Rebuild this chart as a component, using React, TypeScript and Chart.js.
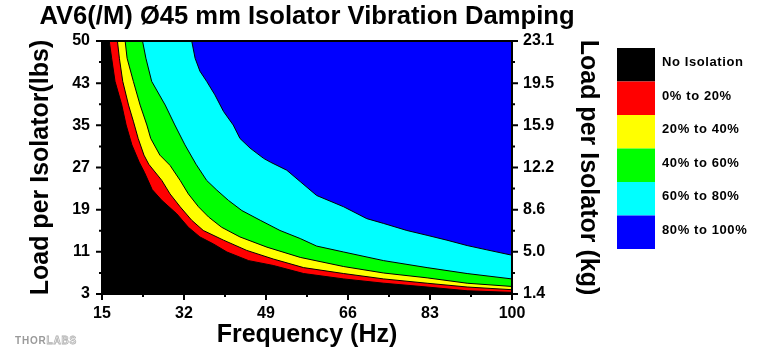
import React, { useEffect, useRef } from 'react';
import { Chart, registerables } from 'chart.js';

Chart.register(...registerables);

const FONT = '"Liberation Sans", Arial, Helvetica, sans-serif';

const chartTitle = 'AV6(/M) Ø45 mm Isolator Vibration Damping';
const xTitle = 'Frequency (Hz)';
const yTitle = 'Load per Isolator(lbs)';
const y2Title = 'Load per Isolator (kg)';
const logoSolid = 'THOR';
const logoOutline = 'LABS';

const freqMin = 15;
const freqMax = 100;
const freqStep = 17;
const lbsMin = 3;
const lbsMax = 50;
const kgMin = 1.4;
const kgMax = 23.1;
const lbsTickLabels = ['3', '11', '19', '27', '35', '43', '50'];
const kgTickLabels = ['1.4', '5.0', '8.6', '12.2', '15.9', '19.5', '23.1'];

const zoneLabels = ['No Isolation', '0% to 20%', '20% to 40%', '40% to 60%', '60% to 80%', '80% to 100%'];
const zoneColors = ['#000000', '#ff0000', '#ffff00', '#00ff00', '#00ffff', '#0000ff'];

// Upper boundary of each zone: frequency (Hz) vs load per isolator (lbs)
const noIsolationFreq = [15, 16.5, 17.0, 17.7, 19.1, 20.0, 21.2, 22.7, 23.8, 25.4, 27.4, 30.5, 32.9, 35.3, 38.1, 40.9, 45.4, 50.5, 56.8, 65.1, 73.4, 82.4, 90.7, 100];
const noIsolationLoad = [50, 50, 46.8, 42.5, 38.1, 34.4, 30.7, 27.5, 25.6, 22.4, 20.4, 17.9, 15.4, 13.6, 12.3, 10.8, 9.2, 8.3, 6.8, 5.8, 5.0, 4.3, 3.6, 3.3];

const damp20Freq = [15, 18.2, 18.6, 19.3, 20.5, 21.5, 22.5, 23.7, 24.7, 27.4, 29.1, 31.2, 33.6, 36.0, 40.2, 45.0, 50.5, 56.8, 65.1, 73.4, 82.4, 90.7, 100];
const damp20Load = [50, 50, 46.8, 42.5, 38.1, 35.1, 31.9, 28.8, 27.1, 24.1, 21.6, 19.2, 16.7, 14.8, 13.0, 11.1, 9.5, 7.9, 6.8, 5.8, 5.0, 4.3, 3.8];

const damp40Freq = [15, 19.8, 20.2, 21.5, 22.9, 24.3, 25.1, 27.0, 29.1, 31.2, 32.9, 35.0, 37.1, 39.8, 43.6, 49.2, 56.1, 65.1, 73.4, 82.4, 90.7, 100];
const damp40Load = [50, 50, 46.8, 42.5, 38.1, 34.4, 31.9, 28.8, 26.9, 24.1, 21.6, 19.2, 17.3, 15.4, 13.6, 11.7, 9.8, 8.1, 6.9, 6.0, 5.0, 4.4];

const damp60Freq = [15, 23.4, 24.1, 25.3, 28.1, 30.1, 32.2, 34.5, 36.7, 38.8, 41.2, 44.0, 47.8, 51.9, 56.1, 59.5, 65.1, 73.4, 82.4, 90.7, 100];
const damp60Load = [50, 50, 46.8, 42.5, 38.1, 34.4, 30.7, 27.1, 24.1, 22.3, 20.4, 18.5, 16.7, 14.8, 13.3, 11.9, 10.8, 9.2, 7.9, 6.8, 5.8];

const damp80Freq = [15, 33.6, 34.3, 35.3, 36.7, 38.4, 40.2, 42.2, 43.6, 45.7, 48.5, 49.9, 53.3, 56.2, 59.5, 65.1, 69.9, 73.4, 78.2, 82.4, 86.5, 90.7, 94.8, 100];
const damp80Load = [50, 50, 46.8, 44.4, 42.5, 40.0, 36.9, 34.4, 31.9, 30.1, 28.2, 27.5, 26.0, 23.8, 21.3, 19.2, 17.0, 16.1, 14.8, 13.9, 13.0, 12.0, 11.2, 10.2];

const damp100Freq = [15, 100];
const damp100Load = [50, 50];

const zoneFreqs = [noIsolationFreq, damp20Freq, damp40Freq, damp60Freq, damp80Freq, damp100Freq];
const zoneLoads = [noIsolationLoad, damp20Load, damp40Load, damp60Load, damp80Load, damp100Load];

function evenTicks(scale: any, min: number, max: number, count: number) {
  const n = count - 1;
  scale.ticks = Array.from({ length: count }, (_, i) => ({ value: min + (i * (max - min)) / n }));
}

const decorPlugin = {
  id: 'decor',
  afterDraw(chart: any) {
    const { ctx, chartArea: a, scales } = chart;
    ctx.save();
    // frame
    ctx.strokeStyle = '#000';
    ctx.lineWidth = 2;
    ctx.strokeRect(a.left, a.top, a.right - a.left, a.bottom - a.top);

    // ticks (major + minor)
    const tickSet = (scale: any) => {
      const vals = scale.ticks.map((t: any) => t.value);
      const out: { v: number; major: boolean }[] = [];
      vals.forEach((v: number, i: number) => {
        out.push({ v, major: true });
        if (i < vals.length - 1) out.push({ v: (v + vals[i + 1]) / 2, major: false });
      });
      return out;
    };
    ctx.lineWidth = 2;
    ctx.beginPath();
    tickSet(scales.x).forEach(({ v, major }) => {
      const p = scales.x.getPixelForValue(v);
      ctx.moveTo(p, a.bottom);
      ctx.lineTo(p, a.bottom + (major ? 6 : 3));
    });
    tickSet(scales.y).forEach(({ v, major }) => {
      const p = scales.y.getPixelForValue(v);
      ctx.moveTo(a.left, p);
      ctx.lineTo(a.left - (major ? 6 : 3), p);
    });
    tickSet(scales.yKg).forEach(({ v, major }) => {
      const p = scales.yKg.getPixelForValue(v);
      ctx.moveTo(a.right, p);
      ctx.lineTo(a.right + (major ? 6 : 3), p);
    });
    ctx.stroke();

    // chart title
    ctx.fillStyle = '#000';
    ctx.font = `bold 25.6px ${FONT}`;
    ctx.textAlign = 'center';
    ctx.textBaseline = 'middle';
    ctx.fillText(chartTitle, (a.left + a.right) / 2, 17);

    // legend
    const lx = 617;
    const ly = 48;
    const bw = 38;
    const bh = 33.5;
    ctx.font = `bold 13px ${FONT}`;
    ctx.textAlign = 'left';
    (ctx as any).letterSpacing = '0.6px';
    zoneLabels.forEach((label, i) => {
      ctx.fillStyle = zoneColors[i];
      ctx.fillRect(lx, ly + i * bh, bw, bh);
      ctx.fillStyle = '#000';
      ctx.fillText(label, lx + bw + 7, ly + i * bh + bh / 2 - 2);
    });

    // logo
    ctx.font = `bold 10px ${FONT}`;
    (ctx as any).letterSpacing = '0.8px';
    ctx.textBaseline = 'alphabetic';
    ctx.fillStyle = '#9a9a9a';
    ctx.fillText(logoSolid, 15, 344);
    const w = ctx.measureText(logoSolid).width;
    ctx.strokeStyle = '#b0b0b0';
    ctx.lineWidth = 0.8;
    ctx.strokeText(logoOutline, 15 + w, 344);
    ctx.restore();
  },
};

export default function App() {
  const ref = useRef<HTMLCanvasElement>(null);
  useEffect(() => {
    document.body.style.margin = '0';
    const canvas = ref.current!;
    const tickFont = { family: FONT, size: 16, weight: 'bold' as const };
    const titleFont = { family: FONT, size: 25, weight: 'bold' as const };
    const chart = new Chart(canvas, {
      type: 'line',
      data: {
        datasets: zoneLabels.map((label, i) => ({
          label,
          data: zoneFreqs[i].map((f, j) => ({ x: f, y: zoneLoads[i][j] })),
          borderColor: '#000',
          borderWidth: 1,
          backgroundColor: zoneColors[i],
          fill: 'start',
          pointRadius: 0,
          tension: 0,
          yAxisID: 'y',
        })),
      },
      options: {
        animation: false,
        responsive: false,
        events: [],
        layout: { padding: { top: 41, right: 175, bottom: 0, left: 0 } },
        plugins: { legend: { display: false }, tooltip: { enabled: false }, title: { display: false } },
        scales: {
          x: {
            type: 'linear',
            min: freqMin,
            max: freqMax,
            grid: { display: false, drawTicks: false },
            border: { display: false },
            ticks: { stepSize: freqStep, color: '#000', font: tickFont, padding: 10, autoSkip: false, maxRotation: 0 },
            title: { display: true, text: xTitle, color: '#000', font: titleFont, padding: { top: 0, bottom: 2 } },
            afterFit: (s: any) => { s.height = 58; },
          },
          y: {
            type: 'linear',
            position: 'left',
            min: lbsMin,
            max: lbsMax,
            grid: { display: false, drawTicks: false },
            border: { display: false },
            afterBuildTicks: (s: any) => evenTicks(s, lbsMin, lbsMax, lbsTickLabels.length),
            ticks: { color: '#000', font: tickFont, padding: 12, autoSkip: false, callback: (_v: any, i: number) => lbsTickLabels[i] },
            title: { display: true, text: yTitle, color: '#000', font: titleFont, padding: { top: 26, bottom: 0 } },
            afterFit: (s: any) => { s.width = 102; },
          },
          yKg: {
            type: 'linear',
            position: 'right',
            display: true,
            min: kgMin,
            max: kgMax,
            grid: { display: false, drawTicks: false },
            border: { display: false },
            afterBuildTicks: (s: any) => evenTicks(s, kgMin, kgMax, kgTickLabels.length),
            ticks: { color: '#000', font: tickFont, padding: 11, autoSkip: false, callback: (_v: any, i: number) => kgTickLabels[i] },
            title: { display: true, text: y2Title, color: '#000', font: titleFont, padding: { top: 2, bottom: 0 } },
            afterFit: (s: any) => { s.width = 93; },
          },
        },
      },
      plugins: [decorPlugin],
    } as any);
    return () => chart.destroy();
  }, []);
  return (
    <div style={{ position: 'fixed', left: 0, top: 0, width: 780, height: 352, background: '#fff' }}>
      <canvas ref={ref} width={780} height={352} style={{ display: 'block' }} />
    </div>
  );
}
